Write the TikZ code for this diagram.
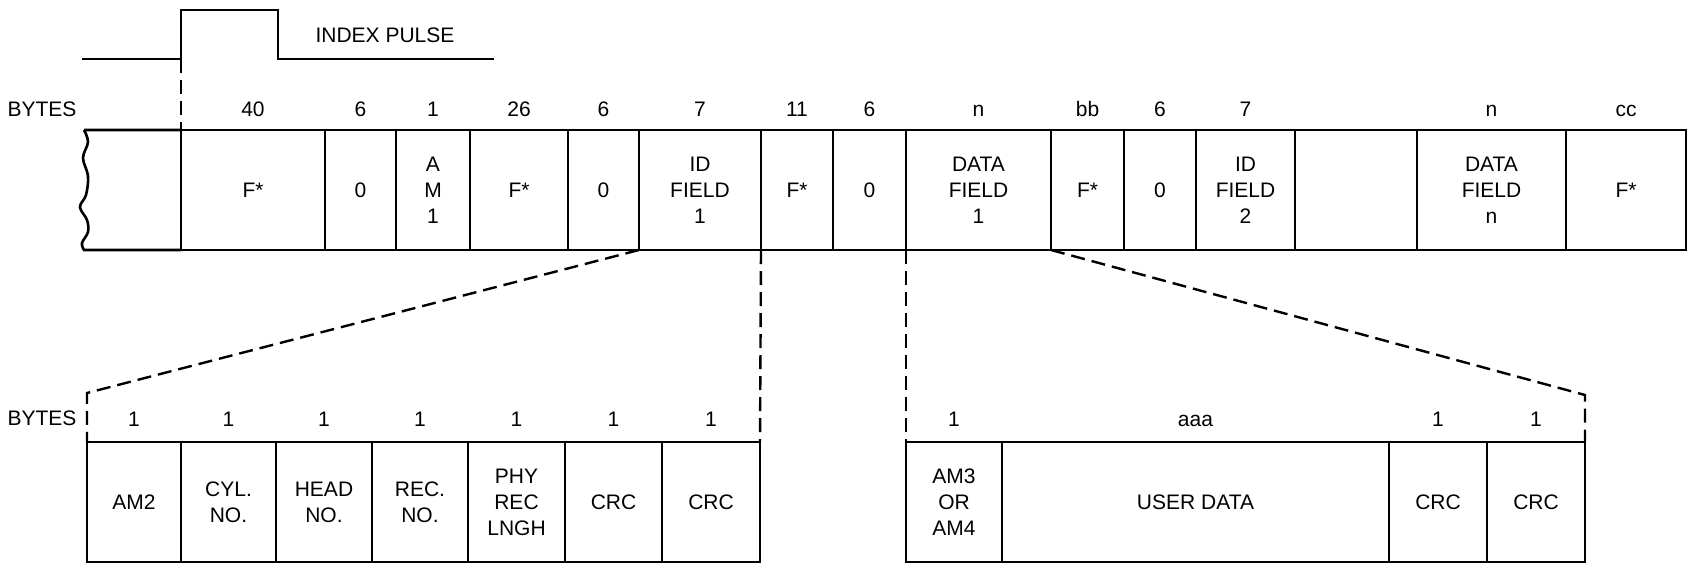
\documentclass[tikz,border=0pt]{standalone}
\usepackage{fontspec}
\setmainfont{Liberation Sans}
\usetikzlibrary{calc}
\tikzset{
  boxline/.style={line width=1.3pt, line join=miter},
  cell/.style={draw, boxline, rectangle, inner sep=0pt, outer sep=0pt, align=center,
               font=\fontsize{10.5pt}{13pt}\selectfont},
  lab/.style={inner sep=0pt, anchor=base, font=\fontsize{10.5pt}{13pt}\selectfont},
  dashline/.style={line width=1.2pt, dash pattern=on 7pt off 3.5pt},
  pulse/.style={line width=1.1pt}
}
% name, x1, x2, y1, y2, text
\newcommand\mycell[6]{%
  \node[cell, minimum width={(#3-#2)*0.5pt}, minimum height={(#5-#4)*0.5pt}]
    (#1) at ({(#2+#3)/2},{(#4+#5)/2}) {#6};}
% cell name, label, gap above top
\newcommand\mylab[3]{%
  \node[lab] (l#1) at ($(#1.north)+(0,-#3)$) {#2};}
\begin{document}
\begin{tikzpicture}[x=0.5pt,y=-0.5pt]
\useasboundingbox (0,0) rectangle (1688,563);

% index pulse
\coordinate (p0) at (82,59);
\coordinate (rise) at (181,59);
\coordinate (rtop) at (181,10);
\coordinate (ftop) at (278,10);
\coordinate (fbot) at (278,59);
\coordinate (p1) at (494,59);
\draw[pulse] (p0) -- (rise) -- (rtop) -- (ftop) -- (fbot) -- (p1);
\node[lab] (ip) at (385,42) {INDEX PULSE};

% main track
\node[lab] (bytes1) at (42,116) {BYTES};
\mycell{f1}{181}{325}{130}{250}{F*}
\mycell{z1}{325}{396}{130}{250}{0}
\mycell{am1}{396}{470}{130}{250}{A\\M\\1}
\mycell{f2}{470}{568}{130}{250}{F*}
\mycell{z2}{568}{639}{130}{250}{0}
\mycell{idf1}{639}{761}{130}{250}{ID\\FIELD\\1}
\mycell{f3}{761}{833}{130}{250}{F*}
\mycell{z3}{833}{906}{130}{250}{0}
\mycell{df1}{906}{1051}{130}{250}{DATA\\FIELD\\1}
\mycell{f4}{1051}{1124}{130}{250}{F*}
\mycell{z4}{1124}{1196}{130}{250}{0}
\mycell{idf2}{1196}{1295}{130}{250}{ID\\FIELD\\2}
\mycell{gap}{1295}{1417}{130}{250}{}
\mycell{dfn}{1417}{1566}{130}{250}{DATA\\FIELD\\n}
\mycell{f5}{1566}{1686}{130}{250}{F*}
\draw[boxline] (f1.north west) -- (84,130)
  plot[smooth, tension=0.6] coordinates {(84,130) (88,142) (83,158) (88,176) (86,195) (80,207) (87,220) (88,232) (82,243) (84,250)}
  -- (f1.south west);

\mylab{f1}{40}{14}
\mylab{z1}{6}{14}
\mylab{am1}{1}{14}
\mylab{f2}{26}{14}
\mylab{z2}{6}{14}
\mylab{idf1}{7}{14}
\mylab{f3}{11}{14}
\mylab{z3}{6}{14}
\mylab{df1}{n}{14}
\mylab{f4}{bb}{14}
\mylab{z4}{6}{14}
\mylab{idf2}{7}{14}
\mylab{dfn}{n}{14}
\mylab{f5}{cc}{14}

\draw[dashline] (rise) -- (f1.north west);

% ID field detail
\node[lab] (bytes2) at (42,425) {BYTES};
\mycell{am2}{87}{181}{442}{562}{AM2}
\mycell{cyl}{181}{276}{442}{562}{CYL.\\NO.}
\mycell{head}{276}{372}{442}{562}{HEAD\\NO.}
\mycell{rec}{372}{468}{442}{562}{REC.\\NO.}
\mycell{phy}{468}{565}{442}{562}{PHY\\REC\\LNGH}
\mycell{crca}{565}{662}{442}{562}{CRC}
\mycell{crcb}{662}{760}{442}{562}{CRC}
\mylab{am2}{1}{16}
\mylab{cyl}{1}{16}
\mylab{head}{1}{16}
\mylab{rec}{1}{16}
\mylab{phy}{1}{16}
\mylab{crca}{1}{16}
\mylab{crcb}{1}{16}

% data field detail
\mycell{am3}{906}{1002}{442}{562}{AM3\\OR\\AM4}
\mycell{user}{1002}{1389}{442}{562}{USER DATA}
\mycell{crcc}{1389}{1487}{442}{562}{CRC}
\mycell{crcd}{1487}{1585}{442}{562}{CRC}
\mylab{am3}{1}{16}
\mylab{user}{aaa}{16}
\mylab{crcc}{1}{16}
\mylab{crcd}{1}{16}

% expansion connectors
\coordinate (bl) at (87,393);
\coordinate (br) at (1585,395);
\draw[dashline] (idf1.south west) -- (bl) -- (am2.north west);
\draw[dashline] (idf1.south east) -- (crcb.north east);
\draw[dashline] (df1.south west) -- (am3.north west);
\draw[dashline] (df1.south east) -- (br) -- (crcd.north east);
\end{tikzpicture}
\end{document}
